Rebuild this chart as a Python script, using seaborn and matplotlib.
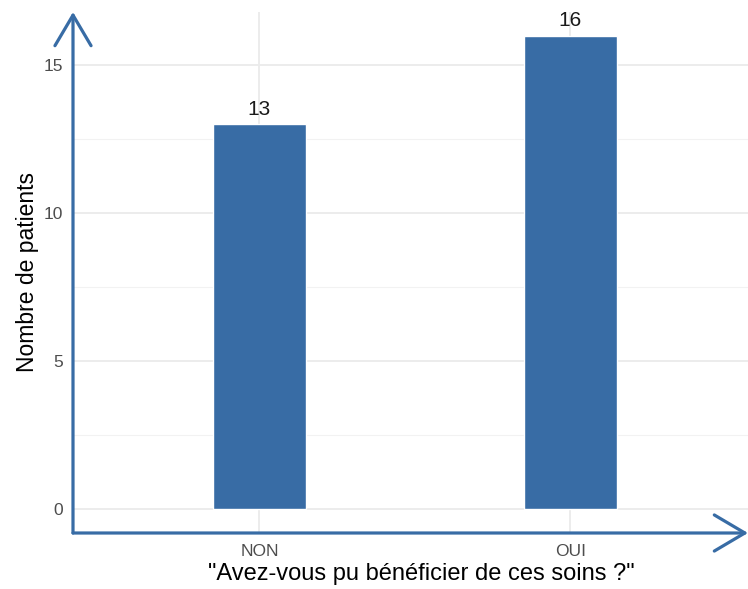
import matplotlib.pyplot as plt
import seaborn as sns
import pandas as pd

reponses = ["NON", "OUI"]
patients = [13, 16]

df = pd.DataFrame({"reponse": reponses, "n": patients})

sns.set_style("white")
plt.rcParams['font.family'] = ['Liberation Sans', 'DejaVu Sans']

bleu = "#386CA5"
fig = plt.figure(figsize=(7.48, 5.89), dpi=100)
ax = fig.add_axes([73 / 748, 56 / 589, 675 / 748, 521 / 589])

sns.barplot(data=df, x="reponse", y="n", color=bleu, width=0.3, saturation=1, ax=ax, zorder=3)

for i, v in enumerate(patients):
    ax.text(i, v + 0.2, str(v), ha="center", va="bottom", fontsize=15, color="#1a1a1a")

ax.set_ylim(-0.8, 16.8)
ax.set_xlim(-0.6, 1.572)
ax.set_yticks([0, 5, 10, 15])
ax.set_yticks([2.5, 7.5, 12.5], minor=True)
ax.grid(True, which="major", color="#EBEBEB", linewidth=1.3, zorder=0)
ax.grid(True, which="minor", axis="y", color="#F2F2F2", linewidth=0.8, zorder=0)
ax.set_axisbelow(True)
for s in ax.spines.values():
    s.set_visible(False)
ax.tick_params(length=0, labelsize=12.5, labelcolor="#4D4D4D", pad=8)
ax.tick_params(axis="y", pad=7)

ax.set_xlabel("\"Avez-vous pu bénéficier de ces soins ?\"", fontsize=17, color="black")
ax.set_ylabel("Nombre de patients", fontsize=16.5, color="black")
ax.xaxis.set_label_coords(0.516, -0.058)
ax.yaxis.set_label_coords(-0.051, 0.5)

# axes with arrows
arrow = dict(arrowstyle="->,head_length=2.2,head_width=1.3", color=bleu, lw=2.3,
             mutation_scale=10, shrinkA=0, shrinkB=0)
ax.annotate("", xy=(0, 1), xytext=(0, 0), xycoords="axes fraction", arrowprops=arrow, annotation_clip=False)
ax.annotate("", xy=(1, 0), xytext=(0, 0), xycoords="axes fraction", arrowprops=arrow, annotation_clip=False)

fig.savefig("out.png", dpi=100)
